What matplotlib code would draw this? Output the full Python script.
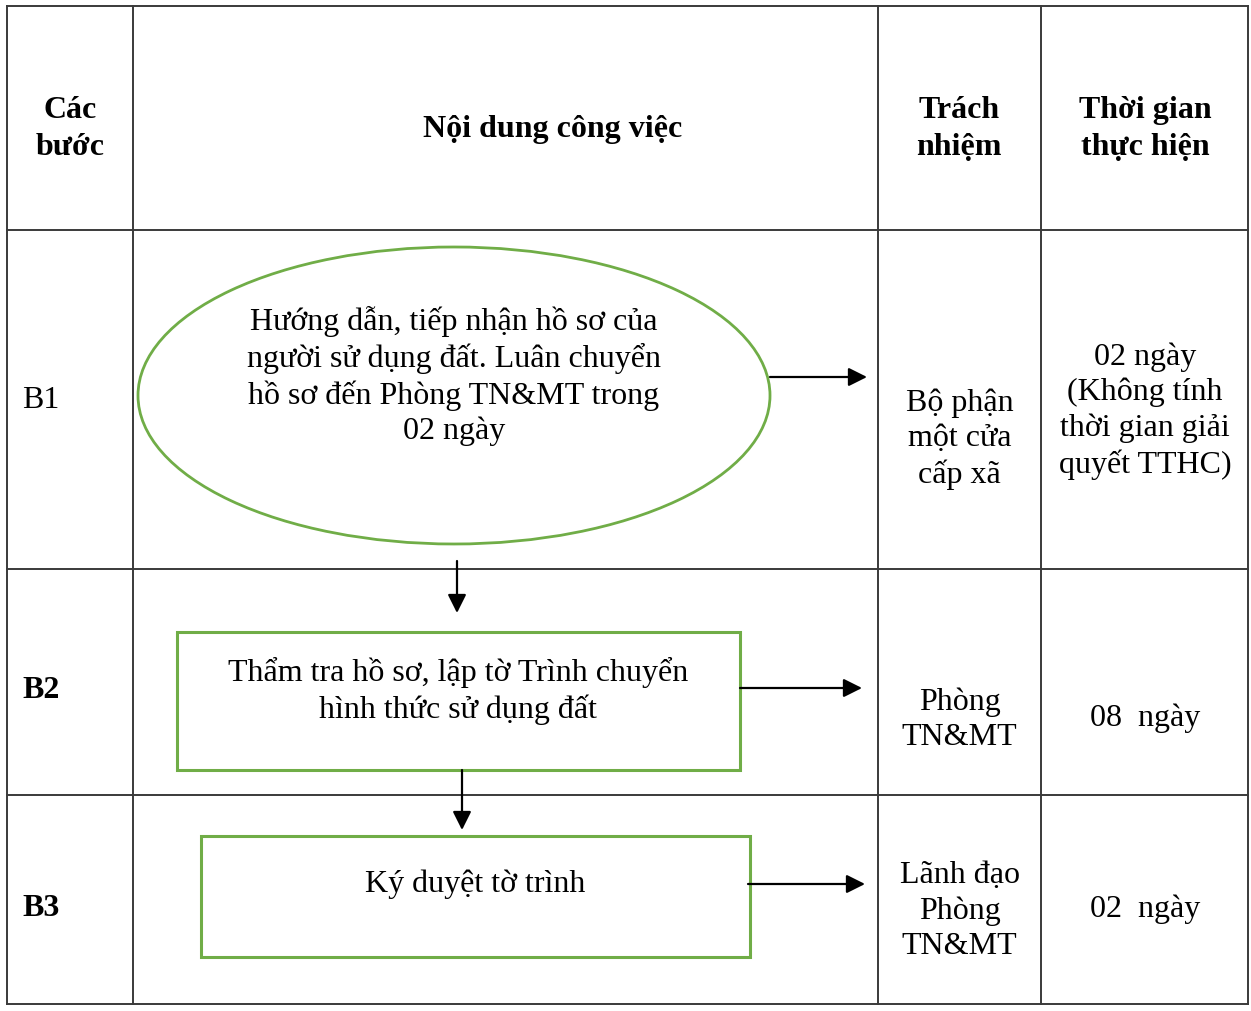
import matplotlib.pyplot as plt
from matplotlib.patches import Ellipse, Rectangle

plt.rcParams['font.family'] = ['Liberation Serif', 'DejaVu Serif']

# table grid (pixel layout)
col_edges = [7, 133, 878, 1041, 1248]
row_edges = [6, 230, 569, 795, 1004]

headers = ['Các\nbước', 'Nội dung công việc', 'Trách\nnhiệm', 'Thời gian\nthực hiện']
steps = ['B1', 'B2', 'B3']
step_bold = [False, True, True]
tasks = ['Hướng dẫn, tiếp nhận hồ sơ của\nngười sử dụng đất. Luân chuyển\nhồ sơ đến Phòng TN&MT trong\n02 ngày',
         'Thẩm tra hồ sơ, lập tờ Trình chuyển\nhình thức sử dụng đất',
         'Ký duyệt tờ trình']
owners = ['Bộ phận\nmột cửa\ncấp xã', 'Phòng\nTN&MT', 'Lãnh đạo\nPhòng\nTN&MT']
durations = ['02 ngày\n(Không tính\nthời gian giải\nquyết TTHC)', '08  ngày', '02  ngày']

green = '#70AD47'
line_c = '#3a3a3a'
fs = 23
ls = 1.27

fig = plt.figure(figsize=(12.51, 10.11), dpi=100)
ax = fig.add_axes([0, 0, 1, 1])
ax.set_xlim(0, 1251)
ax.set_ylim(1011, 0)
ax.axis('off')

# grid lines
for x in col_edges:
    ax.plot([x, x], [row_edges[0], row_edges[-1]], color=line_c, lw=1.4)
for y in row_edges:
    ax.plot([col_edges[0], col_edges[-1]], [y, y], color=line_c, lw=1.4)

# header
hx = [70, 553, 959, 1145]
for x, h in zip(hx, headers):
    ax.text(x, 129, h, ha='center', va='center', fontsize=fs, fontweight='bold', linespacing=1.33)

# step labels
step_y = [401, 691, 908]
for s, b, y in zip(steps, step_bold, step_y):
    ax.text(22, y, s, ha='left', va='center', fontsize=fs, fontweight='bold' if b else 'normal')

# shapes
ax.add_patch(Ellipse((454, 395.5), 632, 297, fill=False, ec=green, lw=2))
ax.add_patch(Rectangle((177, 632), 563, 138, fill=False, ec=green, lw=2.2))
ax.add_patch(Rectangle((201, 836), 549, 121, fill=False, ec=green, lw=2.2))

task_pos = [(454, 376), (458, 691), (475, 884)]
for t, (x, y) in zip(tasks, task_pos):
    ax.text(x, y, t, ha='center', va='center', fontsize=fs, linespacing=ls)

owner_y = [439, 720, 911]
for o, y in zip(owners, owner_y):
    ax.text(959.5, y, o, ha='center', va='center', fontsize=fs, linespacing=ls)

dur_y = [411, 718, 909]
for d, y in zip(durations, dur_y):
    ax.text(1145, y, d, ha='center', va='center', fontsize=fs, linespacing=ls)

# arrows
arr = dict(arrowstyle='-|>', color='black', lw=1.6, mutation_scale=28, shrinkA=0, shrinkB=0)
h_arrows = [((770, 377), (867, 377)), ((740, 688), (862, 688)), ((748, 884), (865, 884))]
v_arrows = [((457, 561), (457, 613)), ((462, 770), (462, 830)), ((465, 958), (465, 1020))]
for a, b in h_arrows + v_arrows:
    ax.annotate('', xy=b, xytext=a, arrowprops=arr)

fig.savefig('out.png', dpi=100)
